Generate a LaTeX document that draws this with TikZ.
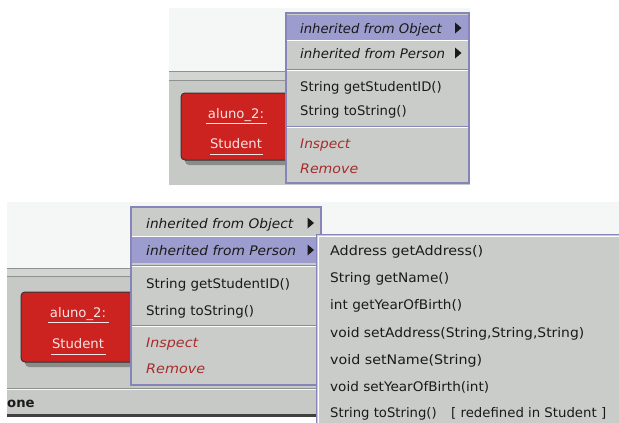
\documentclass[tikz,border=0pt]{standalone}
\usepackage{graphicx}
\usepackage{fontspec}
\setmainfont{DejaVu Sans}
\usetikzlibrary{shapes.geometric}

\definecolor{paper}{HTML}{F4F7F5}
\definecolor{bench}{HTML}{C6C9C6}
\definecolor{benchband}{HTML}{D2D5D2}
\definecolor{benchline}{HTML}{8E918E}
\definecolor{menubg}{HTML}{C9CCC9}
\definecolor{menuedge}{HTML}{8585BA}
\definecolor{hilite}{HTML}{9C9CCE}
\definecolor{objred}{HTML}{CC2320}
\definecolor{objtext}{HTML}{F6E6E6}
\definecolor{cmdred}{HTML}{A82C2C}
\definecolor{ink}{HTML}{1A1A1A}
\definecolor{shade}{HTML}{8A8C8A}

\tikzset{
  item/.style={anchor=base west, inner sep=0pt, text=ink,
               font=\fontsize{13.2}{15}\selectfont},
  inh/.style={item, font=\fontsize{13.2}{15}\selectfont\itshape},
  cmd/.style={item, text=cmdred, font=\fontsize{13.2}{15}\selectfont\itshape},
  objlabel/.style={anchor=base, inner sep=0pt, text=objtext,
               font=\fontsize{13.2}{15}\selectfont},
  objbox/.style={fill=objred, draw=black!80, line width=1pt, rounded corners=4pt},
  objshadow/.style={fill=shade, rounded corners=4pt},
  menu/.style={fill=menubg},
  menuframe/.style={draw=menuedge, line width=1.2pt},
  subtri/.style={fill=ink},
}

% text set to a given width (in pt), height unchanged
\newcommand{\fitto}[2]{\resizebox{#1pt}{\height}{#2}}

% separator line of a popup menu: bluish line with a white highlight below
\newcommand{\menusep}[3]{%
  \draw[menuedge, line width=1pt] (#1,#3) -- (#2,#3);
  \draw[white, line width=0.8pt] (#1,#3+1.2) -- (#2,#3+1.2);}

\begin{document}
\begin{tikzpicture}[x=1pt,y=-1pt]
\useasboundingbox (0,0) rectangle (619,423);
\fill[white] (0,0) rectangle (619,423);

% ---------------- upper view: object bench with the popup menu ----------------
\fill[paper] (169,8) rectangle (470,71);
\fill[bench] (169,71) rectangle (470,185);
\fill[benchband] (169,72) rectangle (470,80);
\draw[benchline, line width=1pt] (169,71.5) -- (470,71.5);
\draw[benchline, line width=1pt] (169,80.5) -- (470,80.5);

% object on the bench
\fill[objshadow] (185,97) rectangle (304,165);
\path[objbox] (181,93) rectangle (300,160);
\node[objlabel] (topobj) at (236,118) {aluno\_2:};
\node[objlabel] (topcls) at (236,148) {Student};
\draw[objtext, line width=1pt] (206,123) -- (267,123);
\draw[objtext, line width=1pt] (210,154) -- (263,154);

% popup menu
\fill[menu] (286,13) rectangle (469,183);
\fill[hilite] (287,15) rectangle (468,40);
\draw[white, line width=0.8pt] (287,40.8) -- (468,40.8);
\menusep{287}{468}{69.5}
\menusep{287}{468}{126.5}
\node[inh] (t1) at (300,33) {inherited from Object};
\node[inh] (t2) at (300,58) {\fitto{145}{inherited from Person}};
\node[item] (t3) at (300,91) {String getStudentID()};
\node[item] (t4) at (300,115) {String toString()};
\node[cmd] (t5) at (300,148) {\fitto{50}{Inspect}};
\node[cmd] (t6) at (300,173) {\fitto{58}{Remove}};
\fill[subtri] (455,22.5) -- (461.5,28) -- (455,33.5) -- cycle;
\fill[subtri] (455,47.5) -- (461.5,53) -- (455,58.5) -- cycle;
\draw[menuframe] (286,13) rectangle (469,183);

% ---------------- lower view: the submenu of Person opened ----------------
\fill[paper] (7,202) rectangle (619,268);
\fill[bench] (7,268) rectangle (317,415);
\fill[benchband] (7,269) rectangle (317,276);
\draw[benchline, line width=1pt] (7,268.5) -- (317,268.5);
\draw[benchline, line width=1pt] (7,276.5) -- (317,276.5);

% status bar
\draw[benchline, line width=1pt] (7,388) -- (317,388);
\draw[white!85!bench, line width=1pt] (7,389.5) -- (317,389.5);
\node[item, font=\fontsize{13.2}{15}\selectfont\bfseries] (status) at (7,407) {one};
\draw[black!75, line width=2.2pt] (7,415.5) -- (317,415.5);

% object on the bench
\fill[objshadow] (25,296) rectangle (144,367);
\path[objbox] (21,292) rectangle (140,362);
\node[objlabel] (botobj) at (78,317) {aluno\_2:};
\node[objlabel] (botcls) at (78,348) {Student};
\draw[objtext, line width=1pt] (48,322) -- (109,322);
\draw[objtext, line width=1pt] (51,354) -- (106,354);

% popup menu
\fill[menu] (131,207) rectangle (321,385);
\fill[hilite] (132,237) rectangle (320,263);
\draw[white, line width=0.8pt] (132,236.2) -- (320,236.2);
\menusep{132}{320}{265}
\menusep{132}{320}{325}
\node[inh] (b1) at (146,228) {\fitto{147}{inherited from Object}};
\node[inh] (b2) at (146,255) {\fitto{150}{inherited from Person}};
\node[item] (b3) at (146,288) {\fitto{144}{String getStudentID()}};
\node[item] (b4) at (146,315) {\fitto{108}{String toString()}};
\node[cmd] (b5) at (146,347) {\fitto{52}{Inspect}};
\node[cmd] (b6) at (146,373) {\fitto{59}{Remove}};
\fill[subtri] (307.5,217.5) -- (314,223) -- (307.5,228.5) -- cycle;
\fill[subtri] (307.5,244.5) -- (314,250) -- (307.5,255.5) -- cycle;
\draw[menuframe] (131,207) rectangle (321,385);

% submenu with the methods inherited from Person
\fill[menu] (316,234) rectangle (619,423);
\draw[menuframe] (316.6,423) -- (316.6,234.6) -- (619,234.6);
\draw[white, line width=0.8pt] (318,423) -- (318,236) -- (619,236);
\node[item] (s1) at (330,255.5) {\fitto{153}{Address getAddress()}};
\node[item] (s2) at (330,282.5) {\fitto{119}{String getName()}};
\node[item] (s3) at (330,309.5) {\fitto{132}{int getYearOfBirth()}};
\node[item] (s4) at (330,337.5) {\fitto{254}{void setAddress(String,String,String)}};
\node[item] (s5) at (330,364.5) {\fitto{152}{void setName(String)}};
\node[item] (s6) at (330,391) {\fitto{159}{void setYearOfBirth(int)}};
\node[item] (s7) at (330,417) {String toString()};
\node[item] (s7b) at (451,417) {\fitto{155}{[ redefined in Student ]}};
\end{tikzpicture}
\end{document}
